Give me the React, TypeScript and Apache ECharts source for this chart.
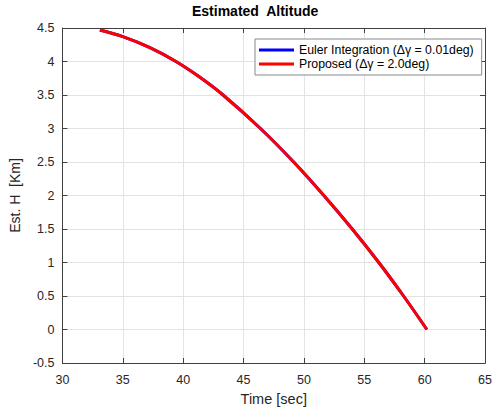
import React, { useEffect, useRef } from "react";
import * as echarts from "echarts";

const timeSec = [33.1, 35, 37.2, 39.4, 41.3, 43.3, 46.4, 49.15, 51.65, 54.0, 56.2, 58.25, 60.18];
const eulerH = [4.47, 4.37, 4.21, 4.0, 3.775, 3.5, 3.0, 2.5, 2.0, 1.5, 1.0, 0.5, 0.0];
const proposedH = [4.47, 4.37, 4.21, 4.0, 3.775, 3.5, 3.0, 2.5, 2.0, 1.5, 1.0, 0.5, 0.0];

const xTicks = { min: 30, max: 65, interval: 5 };
const yTicks = { min: -0.5, max: 4.5, interval: 0.5 };

const FONT = "Liberation Sans, Arial, sans-serif";

export default function App() {
  const ref = useRef<HTMLDivElement>(null);
  useEffect(() => {
    if (!ref.current) return;
    const chart = echarts.init(ref.current, undefined, { renderer: "svg" });
    const euler = timeSec.map((t, i) => [t, eulerH[i]]);
    const prop = timeSec.map((t, i) => [t, proposedH[i]]);
    const axisLine = { show: true, onZero: false, lineStyle: { color: "#404040", width: 1 } };
    const tick = { show: true, inside: true, length: 5, lineStyle: { color: "#404040" } };
    chart.setOption({
      animation: false,
      backgroundColor: "#ffffff",
      textStyle: { fontFamily: FONT },
      title: {
        text: "Estimated  Altitude",
        left: 192,
        top: 4,
        padding: 0,
        textStyle: { fontFamily: FONT, fontWeight: "bold", fontSize: 14, color: "#000" },
      },
      legend: {
        orient: "vertical",
        left: 255,
        top: 39,
        padding: [4, 8, 4, 4],
        itemGap: 0,
        itemWidth: 35,
        itemHeight: 3,
        icon: "rect",
        backgroundColor: "#ffffff",
        borderColor: "#8a8a8a",
        borderWidth: 1,
        borderRadius: 0,
        textStyle: { fontFamily: FONT, fontSize: 12.3, color: "#000", lineHeight: 14 },
        data: [
          { name: "Euler Integration (Δγ = 0.01deg)", itemStyle: { color: "#0000ff" } },
          { name: "Proposed (Δγ = 2.0deg)", itemStyle: { color: "#ff0000" } },
        ],
      },
      grid: { left: 62, right: 7, top: 28, bottom: 46, containLabel: false },
      xAxis: [
        {
          type: "value",
          ...xTicks,
          position: "bottom",
          name: "Time [sec]",
          nameLocation: "middle",
          nameGap: 28,
          nameTextStyle: { fontFamily: FONT, fontSize: 14.5, color: "#262626" },
          axisLine,
          axisTick: tick,
          axisLabel: { fontFamily: FONT, fontSize: 12.5, color: "#262626", margin: 10 },
          splitLine: { show: true, lineStyle: { color: "#e3e3e3", width: 1 } },
        },
        {
          type: "value",
          ...xTicks,
          position: "top",
          axisLine,
          axisTick: tick,
          axisLabel: { show: false },
          splitLine: { show: false },
        },
      ],
      yAxis: [
        {
          type: "value",
          ...yTicks,
          position: "left",
          name: "Est. H  [Km]",
          nameLocation: "middle",
          nameGap: 40,
          nameTextStyle: { fontFamily: FONT, fontSize: 14, color: "#262626" },
          axisLine,
          axisTick: tick,
          axisLabel: { fontFamily: FONT, fontSize: 12.5, color: "#262626", margin: 8 },
          splitLine: { show: true, lineStyle: { color: "#e3e3e3", width: 1 } },
        },
        {
          type: "value",
          ...yTicks,
          position: "right",
          axisLine,
          axisTick: tick,
          axisLabel: { show: false },
          splitLine: { show: false },
        },
      ],
      series: [
        {
          name: "Euler Integration (Δγ = 0.01deg)",
          type: "line",
          data: euler,
          smooth: 0.4,
          showSymbol: false,
          lineStyle: { color: "#0000ff", width: 3 },
          itemStyle: { color: "#0000ff" },
        },
        {
          name: "Proposed (Δγ = 2.0deg)",
          type: "line",
          data: prop,
          smooth: 0.4,
          showSymbol: false,
          lineStyle: { color: "#ff0000", width: 3 },
          itemStyle: { color: "#ff0000" },
        },
      ],
    });
    return () => chart.dispose();
  }, []);
  return <div ref={ref} style={{ width: 495, height: 411, position: "absolute", left: 0, top: 0 }} />;
}
